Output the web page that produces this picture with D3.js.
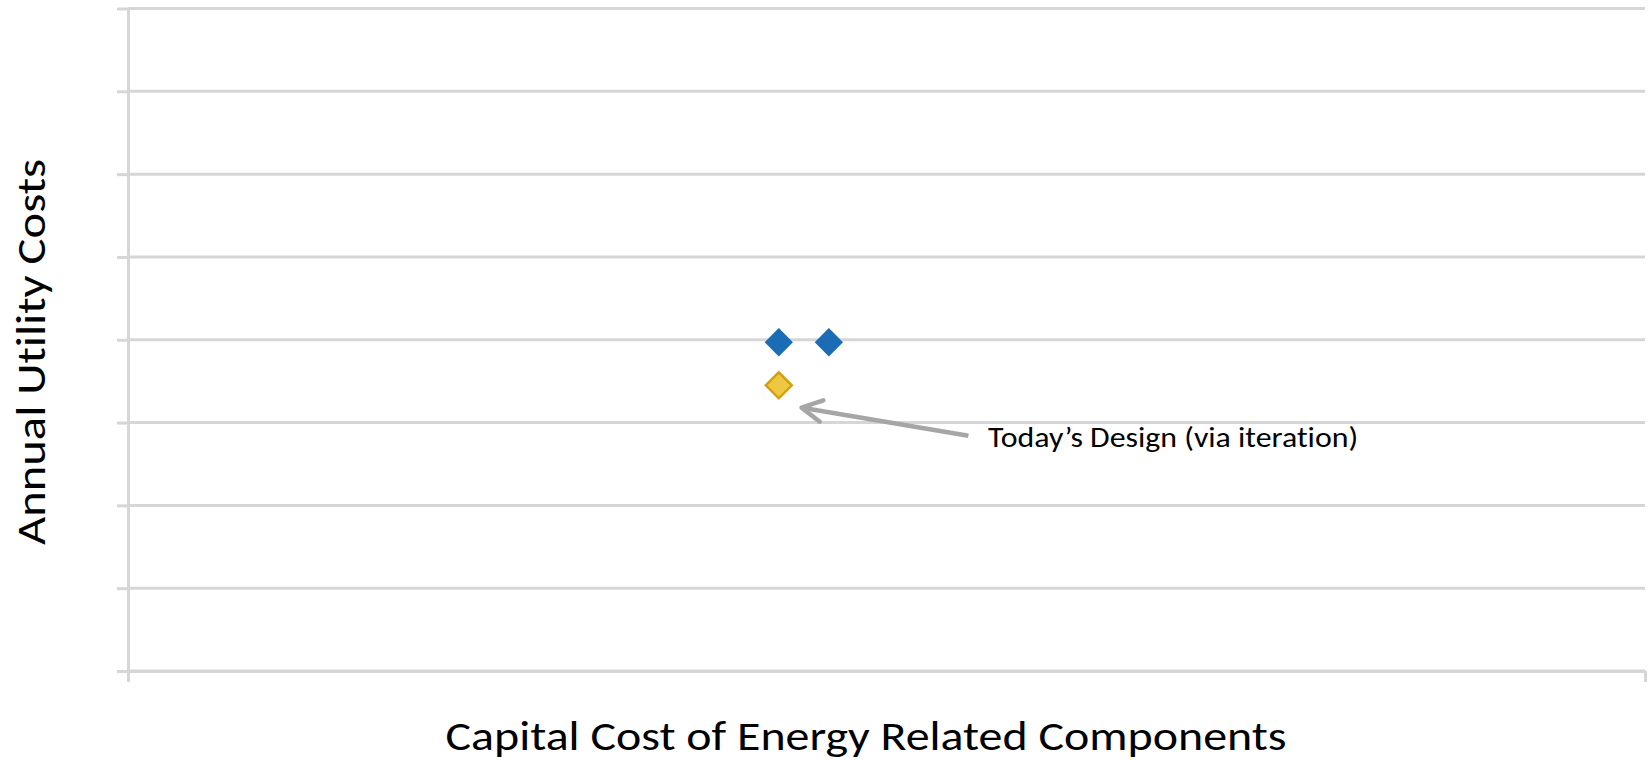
<!DOCTYPE html>
<html>
<head>
<meta charset="utf-8">
<script src="https://cdn.jsdelivr.net/npm/d3@7/dist/d3.min.js"></script>
<style>
  html, body { margin: 0; padding: 0; background: #ffffff; }
  svg { display: block; }
  text { font-family: Carlito, Calibri, "Noto Sans", "Open Sans", sans-serif; fill: #000;
         font-variant-ligatures: none; font-feature-settings: "liga" 0, "clig" 0; }
</style>
</head>
<body>
<svg id="chart" width="1650" height="761"></svg>
<script>
// ---- Data ----
const xDomain = [0, 100];
const yDomain = [0, 8];
const yTickValues = [0, 1, 2, 3, 4, 5, 6, 7, 8];
const xTickValues = [0, 100];

const optionX = [42.9, 46.2];
const optionY = [3.97, 3.97];

const todayX = [42.9];
const todayY = [3.45];

const xTitle = "Capital Cost of Energy Related Components";
const yTitle = "Annual Utility Costs";
const noteText = "Today\u2019s Design (via iteration)";
const noteTip = [44.4, 3.18];
const noteTail = [55.4, 2.84];
const noteAnchor = [56.7, 2.71];

// ---- Layout ----
(function () {
const svg = d3.select("#chart");
const mLeft = 128, mRight = 1645, mTop = 8.5, mBottom = 671;

const x = d3.scaleLinear().domain(xDomain).range([mLeft, mRight]);
const y = d3.scaleLinear().domain(yDomain).range([mBottom, mTop]);

const gridColor = "#d6d6d6";

// gridlines
svg.append("g")
  .selectAll("line")
  .data(yTickValues)
  .join("line")
  .attr("x1", mLeft).attr("x2", mRight)
  .attr("y1", d => y(d)).attr("y2", d => y(d))
  .attr("stroke", gridColor).attr("stroke-width", 3);

// y axis
const yAxis = svg.append("g")
  .attr("transform", `translate(${mLeft},0)`)
  .call(d3.axisLeft(y).tickValues(yTickValues).tickSize(11).tickSizeOuter(0).tickFormat(""));
yAxis.selectAll("path, line").attr("stroke", gridColor).attr("stroke-width", 3);

// x axis
const xAxis = svg.append("g")
  .attr("transform", `translate(0,${mBottom})`)
  .call(d3.axisBottom(x).tickValues(xTickValues).tickSize(11).tickSizeOuter(0).tickFormat(""));
xAxis.selectAll("path, line").attr("stroke", gridColor).attr("stroke-width", 3);

// markers
svg.append("g")
  .selectAll("path")
  .data(optionX.map((v, i) => [v, optionY[i]]))
  .join("path")
  .attr("d", d3.symbol().type(d3.symbolDiamond2).size(510))
  .attr("transform", d => `translate(${x(d[0])},${y(d[1])})`)
  .attr("fill", "#1a6cb4");

svg.append("g")
  .selectAll("path")
  .data(todayX.map((v, i) => [v, todayY[i]]))
  .join("path")
  .attr("d", d3.symbol().type(d3.symbolDiamond2).size(430))
  .attr("transform", d => `translate(${x(d[0])},${y(d[1])})`)
  .attr("fill", "#efc843")
  .attr("stroke", "#d4a10c")
  .attr("stroke-width", 2.5)
  .attr("stroke-linejoin", "miter");

// annotation arrow
const tx = x(noteTip[0]), ty = y(noteTip[1]);
const sx = x(noteTail[0]), sy = y(noteTail[1]);
const ang = Math.atan2(sy - ty, sx - tx);
const armLen = 23, armAng = 28 * Math.PI / 180;
const a1 = [tx + armLen * Math.cos(ang - armAng), ty + armLen * Math.sin(ang - armAng)];
const a2 = [tx + armLen * Math.cos(ang + armAng), ty + armLen * Math.sin(ang + armAng)];
const arrowColor = "#a6a6a6";
svg.append("line")
  .attr("x1", sx).attr("y1", sy).attr("x2", tx + 2 * Math.cos(ang)).attr("y2", ty + 2 * Math.sin(ang))
  .attr("stroke", arrowColor).attr("stroke-width", 4.5).attr("stroke-linecap", "butt");
svg.append("path")
  .attr("d", `M${a1[0]},${a1[1]}L${tx},${ty}L${a2[0]},${a2[1]}`)
  .attr("fill", "none").attr("stroke", arrowColor).attr("stroke-width", 4.5)
  .attr("stroke-linecap", "round").attr("stroke-linejoin", "round");

svg.append("text")
  .attr("x", x(noteAnchor[0])).attr("y", y(noteAnchor[1]))
  .attr("font-size", 29)
  .attr("textLength", 370).attr("lengthAdjust", "spacingAndGlyphs")
  .text(noteText);

// axis titles
svg.append("text")
  .attr("x", 866).attr("y", 750)
  .attr("text-anchor", "middle")
  .attr("font-size", 41)
  .attr("textLength", 841).attr("lengthAdjust", "spacingAndGlyphs")
  .text(xTitle);

svg.append("text")
  .attr("transform", "translate(45,352) rotate(-90)")
  .attr("text-anchor", "middle")
  .attr("font-size", 40)
  .attr("textLength", 386).attr("lengthAdjust", "spacingAndGlyphs")
  .text(yTitle);
})();
</script>
</body>
</html>
